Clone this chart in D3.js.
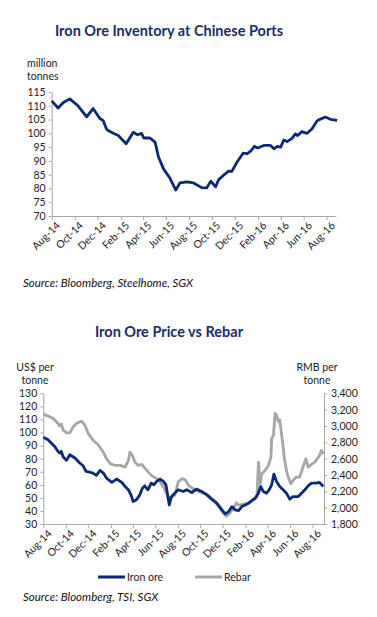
<!DOCTYPE html>
<html>
<head>
<meta charset="utf-8">
<script src="https://cdn.jsdelivr.net/npm/d3@7"></script>
<style>
  body { margin: 0; background: #fff; }
  svg text { font-family: Lato, "Open Sans", sans-serif; }
</style>
</head>
<body>
<div id="chart"></div>
<script>
// values

// chart 1: iron ore inventory at chinese ports (million tonnes)
var invDates = ["2014-08-01","2014-08-18","2014-09-01","2014-09-18","2014-10-10","2014-11-02","2014-11-19",
  "2014-12-07","2014-12-16","2014-12-25","2014-12-29","2015-01-12","2015-01-25","2015-02-15","2015-03-06",
  "2015-03-17","2015-03-28","2015-04-03","2015-04-19","2015-05-03","2015-05-12","2015-05-25","2015-06-12",
  "2015-06-27","2015-07-08","2015-07-26","2015-08-13","2015-09-04","2015-09-17","2015-09-28","2015-10-11",
  "2015-10-19","2015-11-01","2015-11-14","2015-11-23","2015-12-07","2015-12-23","2016-01-03","2016-01-12",
  "2016-01-22","2016-01-31","2016-02-16","2016-03-05","2016-03-14","2016-03-23","2016-04-01","2016-04-09",
  "2016-04-18","2016-05-01","2016-05-10","2016-05-16","2016-05-27","2016-06-10","2016-06-23","2016-07-06",
  "2016-07-11","2016-07-29","2016-08-11","2016-08-29"];
var invValues = [111.8,109.2,111.2,112.5,110,106,109,105.4,104.6,101.5,101,100,99.2,96.2,100.4,
  99.5,100,98.3,98.3,96.8,91.4,87.2,83.6,79.4,82,82.4,82,80.3,80.2,82.6,80.6,
  83.2,84.8,86.3,86.2,89.6,92.8,92.6,93.5,95.3,94.7,95.6,95.6,94.4,95.3,95,97.6,
  97,98.2,99.8,99.2,100.6,100,101.6,104.4,104.9,105.9,105.1,104.7];
var invTicks = [70,75,80,85,90,95,100,105,110,115];

// chart 2: iron ore price (US$/t) vs rebar (RMB/t)
var oreDates = ["2014-08-01","2014-08-14","2014-08-23","2014-09-01","2014-09-10","2014-09-15","2014-09-19",
  "2014-09-24","2014-10-03","2014-10-12","2014-10-26","2014-11-08","2014-11-17","2014-11-25","2014-12-05",
  "2014-12-14","2014-12-23","2015-01-02","2015-01-11","2015-01-20","2015-02-03","2015-02-16","2015-03-02",
  "2015-03-11","2015-03-20","2015-03-27","2015-04-02","2015-04-11","2015-04-20","2015-04-27","2015-05-03",
  "2015-05-12","2015-05-21","2015-05-28","2015-06-05","2015-06-14","2015-06-23","2015-06-30","2015-07-06",
  "2015-07-09","2015-07-15","2015-07-24","2015-08-02","2015-08-16","2015-08-25","2015-09-08","2015-09-21",
  "2015-10-05","2015-10-19","2015-11-01","2015-11-15","2015-11-29","2015-12-08","2015-12-17","2015-12-26",
  "2016-01-04","2016-01-13","2016-01-22","2016-01-31","2016-02-09","2016-02-18","2016-02-27","2016-03-07",
  "2016-03-13","2016-03-20","2016-03-29","2016-04-05","2016-04-12","2016-04-18","2016-04-25","2016-05-04",
  "2016-05-13","2016-05-22","2016-05-31","2016-06-09","2016-06-23","2016-07-02","2016-07-11","2016-07-20",
  "2016-07-29","2016-08-11","2016-08-20","2016-08-30"];
var oreValues = [96.4,94.4,91.8,89.3,85.5,84.2,85.6,81.3,78.7,83,80.5,76.7,74.6,70.3,69.7,
  69,67.2,71,69,65,61.8,64.4,61.8,58.7,56.2,52.3,47.2,48.5,52.3,57.4,59.2,
  56.2,61.3,60,62.6,64.4,62.6,60,49.7,44.6,51,53.6,56.2,54.9,56.2,54.1,56.7,
  54.9,52.3,49,45.9,40.8,37.7,39.5,43.3,40.8,40.3,43.3,44.6,45.9,47.9,49.7,53.6,
  58.7,54.9,53.6,56.2,60,68.2,62.6,58.7,56.2,53.6,49,51,51,53.6,56.2,59.2,
  61.3,61.3,61.8,58.7];

var rebarDates = ["2014-08-01","2014-08-14","2014-08-28","2014-09-10","2014-09-15","2014-09-19","2014-09-24",
  "2014-10-03","2014-10-12","2014-10-21","2014-10-30","2014-11-13","2014-11-22","2014-12-01","2014-12-14",
  "2014-12-28","2015-01-11","2015-01-20","2015-01-30","2015-02-12","2015-02-26","2015-03-11","2015-03-20",
  "2015-03-24","2015-03-31","2015-04-07","2015-04-16","2015-04-25","2015-05-09","2015-05-21","2015-06-05",
  "2015-06-14","2015-06-23","2015-07-02","2015-07-06","2015-07-15","2015-07-24","2015-08-02","2015-08-12",
  "2015-08-21","2015-08-30","2015-09-12","2015-09-30","2015-10-14","2015-10-28","2015-11-10","2015-11-24",
  "2015-12-03","2015-12-12","2015-12-21","2015-12-30","2016-01-07","2016-01-13","2016-01-27","2016-02-09",
  "2016-02-23","2016-03-03","2016-03-07","2016-03-12","2016-03-16","2016-03-25","2016-04-03","2016-04-10",
  "2016-04-12","2016-04-17","2016-04-21","2016-04-25","2016-04-30","2016-05-04","2016-05-12","2016-05-16",
  "2016-05-22","2016-05-27","2016-06-03","2016-06-09","2016-06-18","2016-06-27","2016-07-06","2016-07-14",
  "2016-07-20","2016-07-29","2016-08-07","2016-08-20","2016-08-25","2016-08-31"];
var rebarValues = [3146,3121,3092,3031,2998,3023,2949,2916,2916,2990,3031,3060,3010,2908,2826,
  2770,2679,2598,2537,2517,2517,2497,2578,2679,2638,2557,2517,2529,2456,2395,2355,
  2314,2254,2173,2112,2132,2152,2314,2355,2343,2274,2233,2193,2173,2132,2071,1990,
  1930,1897,1938,1990,2059,2031,2043,2051,2100,2132,2557,2294,2415,2456,2517,2618,
  2847,2888,3154,3133,3052,3072,2785,2618,2456,2375,2294,2334,2375,2375,2497,2598,
  2497,2529,2557,2638,2699,2658];
var priceTicks = [30,40,50,60,70,80,90,100,110,120,130];
var rebarTicks = [1800,2000,2200,2400,2600,2800,3000,3200,3400];

var monthTicks = ["Aug-14","Oct-14","Dec-14","Feb-15","Apr-15","Jun-15","Aug-15","Oct-15",
  "Dec-15","Feb-16","Apr-16","Jun-16","Aug-16"];

var parseDay = d3.timeParse("%Y-%m-%d");
var parseMonth = d3.timeParse("%b-%y");
var fmtMonth = d3.timeFormat("%b-%y");
var tickDates = monthTicks.map(parseMonth);

var navy = "#0c2a74", grey = "#a6a6a6", axisGrey = "#a6a6a6", titleCol = "#1b2d63";

var svg = d3.select("#chart").append("svg")
  .attr("width", 377).attr("height", 617);

function styleAxis(g) {
  g.selectAll("path, line").attr("stroke", axisGrey).attr("stroke-width", 1);
  g.selectAll("text").attr("fill", "#222").style("font-size", "10.5px");
}

function xAxisRotated(g, x, y0) {
  var ax = g.append("g")
    .attr("transform", "translate(0," + y0 + ")")
    .call(d3.axisBottom(x).tickValues(tickDates).tickFormat(fmtMonth).tickSize(4).tickSizeOuter(0));
  styleAxis(ax);
  ax.selectAll("text")
    .attr("text-anchor", "end")
    .attr("dx", "-0.1em").attr("dy", "0.6em")
    .attr("transform", "rotate(-45)");
}

// ---------- chart 1 ----------
var c1 = svg.append("g");

c1.append("text").attr("x", 169).attr("y", 36).attr("text-anchor", "middle")
  .attr("fill", titleCol).style("font-size", "14.5px").style("font-weight", "bold")
  .text("Iron Ore Inventory at Chinese Ports");

c1.append("text").attr("x", 27).attr("y", 67).style("font-size", "10.5px").attr("fill", "#222").text("million");
c1.append("text").attr("x", 27).attr("y", 80).style("font-size", "10.5px").attr("fill", "#222").text("tonnes");

var x1 = d3.scaleTime().domain([parseDay("2014-08-01"), parseDay("2016-08-26")]).range([51.7, 336]);
var y1 = d3.scaleLinear().domain([70, 115]).range([216, 92]);

var ay1 = c1.append("g").attr("transform", "translate(51.7,0)")
  .call(d3.axisLeft(y1).tickValues(invTicks).tickSize(3).tickSizeOuter(0).tickPadding(3));
styleAxis(ay1);
xAxisRotated(c1, x1, 216);

var inv = invDates.map(function(d, i){ return {date: parseDay(d), value: invValues[i]}; });
c1.append("path").datum(inv)
  .attr("fill", "none").attr("stroke", navy).attr("stroke-width", 2.8)
  .attr("stroke-linejoin", "round")
  .attr("d", d3.line().x(function(d){ return x1(d.date); }).y(function(d){ return y1(d.value); }));

c1.append("text").attr("x", 23).attr("y", 287).style("font-size", "11.5px")
  .style("font-style", "italic").attr("fill", "#111")
  .text("Source: Bloomberg, Steelhome, SGX");

// ---------- chart 2 ----------
var c2 = svg.append("g");

c2.append("text").attr("x", 169).attr("y", 337).attr("text-anchor", "middle")
  .attr("fill", titleCol).style("font-size", "14.5px").style("font-weight", "bold")
  .text("Iron Ore Price vs Rebar");

[["US$ per", 371], ["tonne", 384]].forEach(function(t){
  c2.append("text").attr("x", 35).attr("y", t[1]).attr("text-anchor", "middle")
    .style("font-size", "10.5px").attr("fill", "#222").text(t[0]);
});
[["RMB per", 371], ["tonne", 384]].forEach(function(t){
  c2.append("text").attr("x", 317).attr("y", t[1]).attr("text-anchor", "middle")
    .style("font-size", "10.5px").attr("fill", "#222").text(t[0]);
});

var x2 = d3.scaleTime().domain([parseDay("2014-08-01"), parseDay("2016-09-01")]).range([43.3, 324]);
var y2 = d3.scaleLinear().domain([30, 130]).range([524, 393.3]);
var y2r = d3.scaleLinear().domain([1800, 3400]).range([524, 393.3]);

var ay2 = c2.append("g").attr("transform", "translate(43.3,0)")
  .call(d3.axisLeft(y2).tickValues(priceTicks).tickSize(3).tickSizeOuter(0).tickPadding(3));
styleAxis(ay2);
var ay2r = c2.append("g").attr("transform", "translate(324,0)")
  .call(d3.axisRight(y2r).tickValues(rebarTicks).tickFormat(d3.format(",")).tickSize(3).tickSizeOuter(0).tickPadding(4));
styleAxis(ay2r);
xAxisRotated(c2, x2, 524);

var rebar = rebarDates.map(function(d, i){ return {date: parseDay(d), value: rebarValues[i]}; });
var ore = oreDates.map(function(d, i){ return {date: parseDay(d), value: oreValues[i]}; });

c2.append("path").datum(rebar)
  .attr("fill", "none").attr("stroke", grey).attr("stroke-width", 2.8).attr("stroke-linejoin", "round")
  .attr("d", d3.line().x(function(d){ return x2(d.date); }).y(function(d){ return y2r(d.value); }));
c2.append("path").datum(ore)
  .attr("fill", "none").attr("stroke", navy).attr("stroke-width", 2.8).attr("stroke-linejoin", "round")
  .attr("d", d3.line().x(function(d){ return x2(d.date); }).y(function(d){ return y2(d.value); }));

// legend
var legend = [{name: "Iron ore", color: navy, x: 98}, {name: "Rebar", color: grey, x: 195}];
legend.forEach(function(l){
  c2.append("line").attr("x1", l.x).attr("x2", l.x + 27).attr("y1", 577).attr("y2", 577)
    .attr("stroke", l.color).attr("stroke-width", 3);
  c2.append("text").attr("x", l.x + 29).attr("y", 581).style("font-size", "10.5px")
    .attr("fill", "#222").text(l.name);
});

c2.append("text").attr("x", 23).attr("y", 601).style("font-size", "11.5px")
  .style("font-style", "italic").attr("fill", "#111")
  .text("Source: Bloomberg, TSI, SGX");
</script>
</body>
</html>
